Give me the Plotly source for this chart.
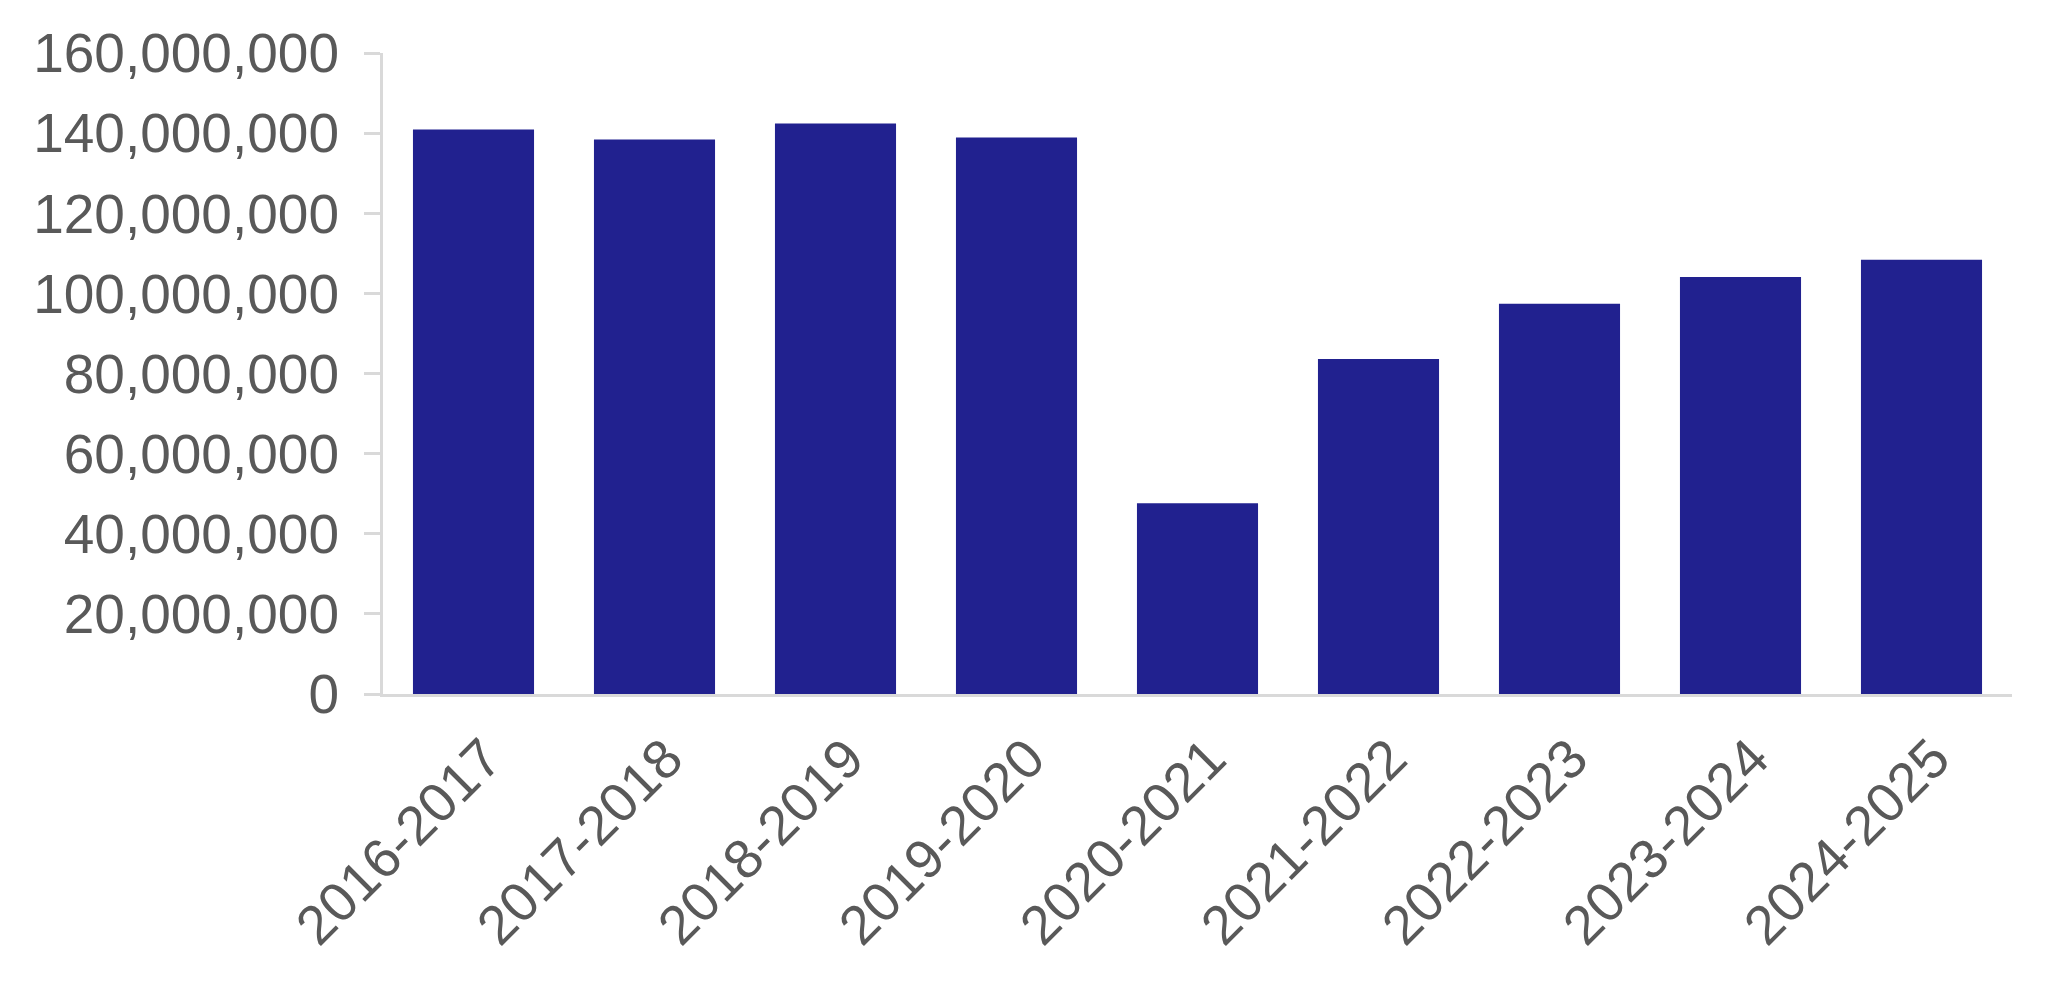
import plotly.graph_objects as go

categories = ["2016-2017", "2017-2018", "2018-2019", "2019-2020", "2020-2021",
              "2021-2022", "2022-2023", "2023-2024", "2024-2025"]
values = [140_900_000, 138_400_000, 142_400_000, 138_900_000, 47_600_000,
          83_600_000, 97_400_000, 104_100_000, 108_400_000]
y_ticks = [0, 20_000_000, 40_000_000, 60_000_000, 80_000_000,
           100_000_000, 120_000_000, 140_000_000, 160_000_000]
y_tick_labels = [f"{v:,}" for v in y_ticks]

BAR = "#21218F"
TEXT = "#595959"
AXIS = "#D9D9D9"
FONT = "Liberation Sans, Arial, sans-serif"

fig = go.Figure(go.Bar(x=categories, y=values, marker_color=BAR, marker_line_width=0))

fig.update_layout(
    width=2054, height=979,
    margin=dict(l=375, r=50, t=45, b=293, autoexpand=False),
    paper_bgcolor="white", plot_bgcolor="white",
    bargap=0.331,
    showlegend=False,
    font=dict(family=FONT, size=55, color=TEXT),
)
fig.update_xaxes(
    showline=True, linecolor=AXIS, linewidth=3,
    ticks="", tickangle=-45, showgrid=False,
    ticklabelstandoff=7, ticklabelshift=12,
    tickfont=dict(family=FONT, size=55, color=TEXT),
)
fig.update_yaxes(
    range=[0, 160_000_000], tickvals=y_ticks, ticktext=y_tick_labels,
    showline=True, linecolor=AXIS, linewidth=3,
    ticks="outside", ticklen=16, tickwidth=3, tickcolor=AXIS,
    showgrid=False, zeroline=False,
    ticklabelstandoff=14,
    tickfont=dict(family=FONT, size=55, color=TEXT),
)

fig.write_html("out.html")
